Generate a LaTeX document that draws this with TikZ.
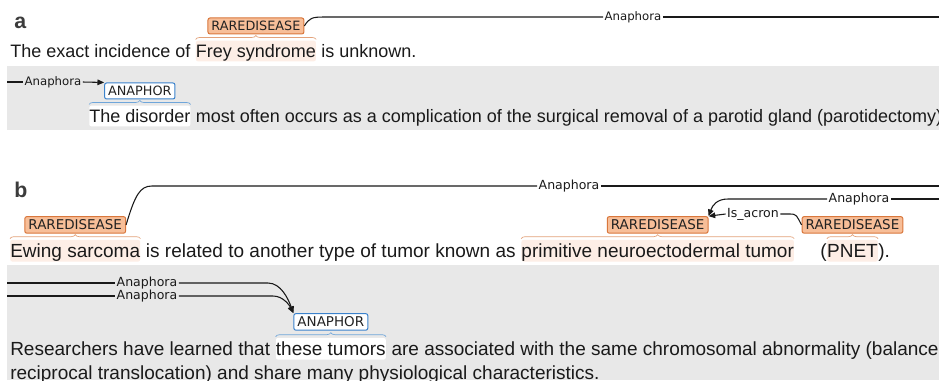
\documentclass[tikz,border=0pt]{standalone}
\usepackage{fontspec}
\setmainfont{Liberation Sans}
\newfontfamily\lblfont{DejaVu Sans}
\usetikzlibrary{calc,arrows.meta,decorations.pathreplacing}
\definecolor{rdfill}{HTML}{F7BE98}
\definecolor{rdborder}{HTML}{D9773C}
\definecolor{hlpeach}{HTML}{FDEEE6}
\definecolor{rdbrace}{HTML}{E3A27A}
\definecolor{anborder}{HTML}{3B82CC}
\definecolor{anbrace}{HTML}{6FA6DA}
\definecolor{greybg}{HTML}{E8E8E8}
\definecolor{txtcol}{HTML}{1A1A1A}
\definecolor{lbltext}{HTML}{222222}
\newcommand\mytxtA{\fontsize{13.5pt}{16pt}\selectfont}
\newcommand\mytxtB{\fontsize{14.25pt}{17pt}\selectfont}
\begin{document}
\begin{tikzpicture}[x=0.75pt,y=-0.75pt,
  txtA/.style={inner sep=0pt, anchor=base west, font=\mytxtA, text=txtcol},
  txtB/.style={inner sep=0pt, anchor=base west, font=\mytxtB, text=txtcol},
  hlA/.style={text height=12.2pt, text depth=3.2pt, rounded corners=1.5pt},
  hlB/.style={text height=12.8pt, text depth=3.4pt, rounded corners=1.5pt},
  boxbase/.style={rounded corners=1.5pt, line width=0.75pt, inner ysep=0pt, anchor=south, text=lbltext},
  rdA/.style={boxbase, draw=rdborder, fill=rdfill, font=\lblfont\fontsize{9.6pt}{11pt}\selectfont, inner xsep=2.6pt, minimum height=12pt},
  rdB/.style={boxbase, draw=rdborder, fill=rdfill, font=\lblfont\fontsize{10.1pt}{12pt}\selectfont, inner xsep=2.7pt, minimum height=12.4pt},
  anA/.style={boxbase, draw=anborder, fill=white, font=\lblfont\fontsize{9.6pt}{11pt}\selectfont, inner xsep=2.6pt, minimum height=12pt},
  anB/.style={boxbase, draw=anborder, fill=white, font=\lblfont\fontsize{10.1pt}{12pt}\selectfont, inner xsep=2.7pt, minimum height=12.4pt},
  bracestyle/.style={decorate, decoration={brace, amplitude=3pt}, line width=0.5pt},
  arcline/.style={draw=txtcol, line width=0.8pt},
  arrowed/.style={arcline, -{Triangle[length=5pt,width=4.2pt]}},
  alblA/.style={font=\lblfont\fontsize{8.8pt}{10pt}\selectfont, inner xsep=1pt, inner ysep=0pt, text=txtcol},
  alblB/.style={font=\lblfont\fontsize{9.4pt}{11pt}\selectfont, inner xsep=1pt, inner ysep=0pt, text=txtcol},
  panellbl/.style={font=\bfseries\fontsize{16pt}{18pt}\selectfont, anchor=base west, inner sep=0pt, text=txtcol!85!white}
]
\useasboundingbox (0,0) rectangle (939,380);
\clip (0,0) rectangle (939,380);
\fill[white] (0,0) rectangle (939,380);
\fill[greybg] (7,66) rectangle (939,130);
\fill[greybg] (7,265) rectangle (939,380);

% ---------------- panel a ----------------
\node[panellbl] (pa) at (14,28) {a};
\node[txtA] (s1a) at (10,57) {The exact incidence of};
\node[txtA, hlA, fill=hlpeach] (s1b) at ($(s1a.base east)+(5,0)$) {Frey syndrome};
\node[txtA] (s1c) at ($(s1b.base east)+(5,0)$) {is unknown.};

\node[txtA, hlA, fill=white] (s2a) at (89,122) {The disorder};
\node[txtA] (s2b) at ($(s2a.base east)+(5,0)$) {most often occurs as a complication of the surgical removal of a parotid gland (parotidectomy).};

\draw[bracestyle, rdbrace] ($(s1b.north west)+(0,-1)$) -- ($(s1b.north east)+(0,-1)$);
\node[rdA] (ra) at ($(s1b.north)+(0,-6)$) {RAREDISEASE};
\draw[bracestyle, anbrace] ($(s2a.north west)+(0,-1)$) -- ($(s2a.north east)+(0,-1)$);
\node[anA] (an) at ($(s2a.north)+(0,-6)$) {ANAPHOR};

\node[alblA] (la1) at (633,17) {Anaphora};
\coordinate (a1k) at (324,17);
\coordinate (aR) at (939,17);
\draw[arcline] (ra.east) .. controls +(5,-8) and +(-12,0) .. (a1k) -- (la1.west);
\draw[arcline] (la1.east) -- (aR);

\node[alblA] (la2) at (53,82) {Anaphora};
\coordinate (aL) at (7,82);
\draw[arcline] (aL) -- (la2.west);
\draw[arrowed] (la2.east) -- (an.north west);

% ---------------- panel b ----------------
\node[panellbl] (pb) at (14,197) {b};
\node[txtB, hlB, fill=hlpeach] (t1a) at (10,257) {Ewing sarcoma};
\node[txtB] (t1b) at ($(t1a.base east)+(5.3,0)$) {is related to another type of tumor known as};
\node[txtB, hlB, fill=hlpeach] (t1c) at ($(t1b.base east)+(5.3,0)$) {primitive neuroectodermal tumor};
\node[txtB] (t1d) at (820,257) {(};
\node[txtB, hlB, fill=hlpeach] (t1e) at (t1d.base east) {PNET};
\node[txtB] (t1f) at (t1e.base east) {).};

\node[txtB] (u1a) at (10,355) {Researchers have learned that};
\node[txtB, hlB, fill=white] (u1b) at ($(u1a.base east)+(5.3,0)$) {these tumors};
\node[txtB] (u1c) at ($(u1b.base east)+(5.3,0)$) {are associated with the same chromosomal abnormality (balanced};
\node[txtB] (u2) at (10,379) {reciprocal translocation) and share many physiological characteristics.};

\draw[bracestyle, rdbrace] ($(t1a.north west)+(0,-1)$) -- ($(t1a.north east)+(0,-1)$);
\node[rdB] (rb1) at ($(t1a.north)+(0,-6)$) {RAREDISEASE};
\draw[bracestyle, rdbrace] ($(t1c.north west)+(0,-1)$) -- ($(t1c.north east)+(0,-1)$);
\node[rdB] (rb2) at ($(t1c.north)+(0,-6)$) {RAREDISEASE};
\draw[bracestyle, rdbrace] ($(t1e.north west)+(0,-1)$) -- ($(t1e.north east)+(0,-1)$);
\node[rdB] (rb3) at ($(t1e.north)+(0,-6)$) {RAREDISEASE};
\draw[bracestyle, anbrace] ($(u1b.north west)+(0,-1)$) -- ($(u1b.north east)+(0,-1)$);
\node[anB] (bn) at ($(u1b.north)+(0,-7)$) {ANAPHOR};

% long anaphora arc
\node[alblB] (lb1) at (569,186) {Anaphora};
\coordinate (b1k) at (152,186);
\coordinate (bR1) at (939,186);
\draw[arcline] (rb1.east) .. controls +(9,-30) and +(-12,0) .. (b1k) -- (lb1.west);
\draw[arcline] (lb1.east) -- (bR1);

% second anaphora arc (incoming from right)
\node[alblB] (lb2) at (859,199) {Anaphora};
\coordinate (b2k) at (728,199);
\coordinate (bR2) at (939,199);
\draw[arcline] (bR2) -- (lb2.east);
\draw[arrowed] (lb2.west) -- (b2k) .. controls +(-11,0) and +(4,-11) .. (rb2.north east);

% Is_acron
\node[alblB] (lis) at (753,214) {Is\_acron};
\coordinate (b3k) at (790,214);
\draw[arcline] (rb3.west) .. controls +(-5,-9) and +(7,0) .. (b3k) -- (lis.east);
\draw[arrowed] (lis.west) -- (rb2.north east);

% incoming anaphora arcs in grey row
\node[alblB] (lb3) at (147,283) {Anaphora};
\node[alblB] (lb4) at (147,296) {Anaphora};
\coordinate (bL1) at (7,283);
\coordinate (bL2) at (7,296);
\coordinate (b4k) at (268,283);
\coordinate (b5k) at (273,296);
\draw[arcline] (bL1) -- (lb3.west);
\draw[arcline] (bL2) -- (lb4.west);
\draw[arrowed] (lb3.east) -- (b4k) .. controls +(13,0) and +(-5,-14) .. (bn.north west);
\draw[arrowed] (lb4.east) -- (b5k) .. controls +(10,0) and +(-4,-8) .. (bn.north west);
\end{tikzpicture}
\end{document}
